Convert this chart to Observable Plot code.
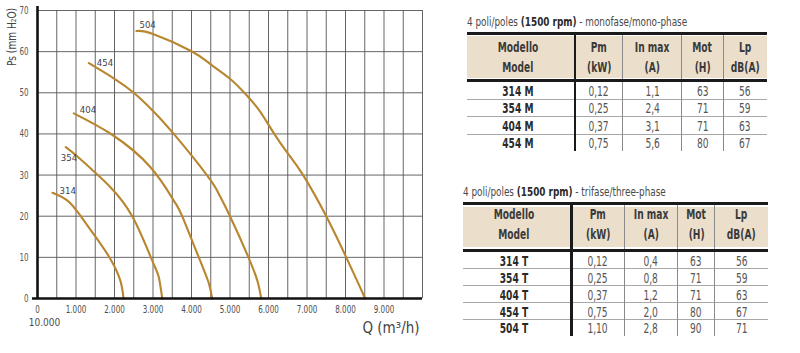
<!DOCTYPE html>
<html><head><meta charset="utf-8">
<script src="https://cdn.jsdelivr.net/npm/d3@7"></script>
<script src="https://cdn.jsdelivr.net/npm/@observablehq/plot@0.6"></script>
<style>
html,body{margin:0;padding:0;background:#fff;}
body{width:800px;height:353px;position:relative;overflow:hidden;font-family:"Liberation Sans Narrow","DejaVu Sans Condensed","Arial Narrow",sans-serif;font-stretch:condensed;}
#chart{position:absolute;left:0;top:0;}
.abs{position:absolute;}
.ttl{position:absolute;font-size:12px;color:#4a4a4a;white-space:nowrap;line-height:14px;transform:scaleX(0.82);transform-origin:0 50%;}
.ttl b{color:#2a2a2a;}
.cell{position:absolute;text-align:center;white-space:nowrap;font-size:13.5px;}
.cell span{display:inline-block;transform:scaleX(0.75);transform-origin:50% 50%;}
.ytitle{position:absolute;white-space:nowrap;font-size:12px;color:#444;transform:translate(-50%,-50%) rotate(-90deg) scaleX(0.84);}
</style></head><body>
<div id="chart"></div>
<div id="tables"></div>
<script>
// ---------- chart data ----------
const models = ["314", "354", "404", "454", "504"];
const q314 = [390, 780, 1100, 1515, 1900, 2150, 2235];
const p314 = [25.7, 23.8, 20.3, 14.9, 9.5, 4.4, 0];
const q354 = [735, 1000, 1510, 1900, 2460, 2980, 3150, 3240];
const p354 = [36.8, 34.8, 30.5, 27, 20, 9.2, 5.2, 0];
const q404 = [943, 1940, 2935, 3540, 3758, 4190, 4440, 4537];
const p404 = [45, 39.8, 31.9, 23.8, 20, 10, 4, 0];
const q454 = [1333, 2000, 2500, 3000, 3540, 4400, 4700, 5000, 5480, 5720, 5810];
const p454 = [57.2, 53.4, 50, 45.6, 40, 30, 25.6, 20, 10, 4, 0];
const q504 = [2570, 3000, 4000, 4500, 5000, 5450, 5800, 6150, 6500, 6900, 7500, 8020, 8350, 8510];
const p504 = [65, 64.3, 60.1, 56.9, 53.4, 49.2, 45.2, 40, 35.3, 30, 20, 10, 3.3, 0];
const xTickValues = [0, 1000, 2000, 3000, 4000, 5000, 6000, 7000, 8000, 9000];
const xTickLabels = ["0", "1.000", "2.000", "3.000", "4.000", "5.000", "6.000", "7.000", "8.000", "9.000"];
const xExtraLabel = "10.000";
const yTickValues = [0, 10, 20, 30, 40, 50, 60, 70];
const yTitle = "Ps (mm H\u2082O)";
const xTitle = "Q (m\u00b3/h)";

// ---------- table data ----------
const headTop = ["Modello", "Pm", "In max", "Mot", "Lp"];
const headBottom = ["Model", "(kW)", "(A)", "(H)", "dB(A)"];
const monoTitle = ["4 poli/poles ", "(1500 rpm)", " - monofase/mono-phase"];
const monoModel = ["314 M", "354 M", "404 M", "454 M"];
const monoPm = ["0,12", "0,25", "0,37", "0,75"];
const monoIn = ["1,1", "2,4", "3,1", "5,6"];
const monoMot = ["63", "71", "71", "80"];
const monoLp = ["56", "59", "63", "67"];
const triTitle = ["4 poli/poles ", "(1500 rpm)", " - trifase/three-phase"];
const triModel = ["314 T", "354 T", "404 T", "454 T", "504 T"];
const triPm = ["0,12", "0,25", "0,37", "0,75", "1,10"];
const triIn = ["0,4", "0,8", "1,2", "2,0", "2,8"];
const triMot = ["63", "71", "71", "80", "90"];
const triLp = ["56", "59", "63", "67", "71"];

// ---------- chart ----------
const qs = [q314, q354, q404, q454, q504];
const ps = [p314, p354, p404, p454, p504];
const pts = models.flatMap((m, i) => qs[i].map((q, j) => ({model: m, q, p: ps[i][j]})));
const starts = models.map((m, i) => ({model: m, q: qs[i][0], p: ps[i][0]}));
const labelStyle = {"314": [7, -2], "354": [-5, 10.5], "404": [6, -3], "454": [8, -0.5], "504": [3, -6]};
const FONT = "'Liberation Sans Narrow','DejaVu Sans Condensed','Arial Narrow',sans-serif";
const curveColor = "#b8862f";

const chart = Plot.plot({
  width: 440, height: 353,
  marginLeft: 37, marginRight: 18, marginTop: 10, marginBottom: 55,
  x: {domain: [0, 10000]},
  y: {domain: [0, 70]},
  style: {fontFamily: FONT, background: "transparent", overflow: "visible"},
  marks: [
    Plot.gridX(d3.range(500, 10001, 500), {stroke: "#555", strokeOpacity: 0.9, strokeWidth: 1}),
    Plot.gridY(d3.range(10, 71, 10), {stroke: "#555", strokeOpacity: 0.9, strokeWidth: 1}),
    Plot.line(pts, {x: "q", y: "p", z: "model", stroke: curveColor, strokeWidth: 2.1, curve: "natural"}),
    ...models.map(m => Plot.text(starts.filter(d => d.model === m), {
      x: "q", y: "p", text: "model", textAnchor: "start", ariaLabel: "curve-label",
      dx: labelStyle[m][0], dy: labelStyle[m][1], fontSize: 9.5, fill: "#3f3f4a"
    })),
    Plot.ruleX([0], {stroke: "#111", strokeWidth: 2.6, insetTop: -4, insetBottom: -1}),
    Plot.ruleY([0], {stroke: "#111", strokeWidth: 2.6, insetLeft: -5}),
    Plot.axisX(xTickValues, {tickSize: 0, tickPadding: 7, fontSize: 10.5, color: "#4d4d4d",
      tickFormat: d => xTickLabels[xTickValues.indexOf(d)], label: null}),
    Plot.axisY(yTickValues, {tickSize: 0, tickPadding: 9, fontSize: 11, color: "#555", label: null}),
    Plot.text([xExtraLabel], {x: () => 0, frameAnchor: "bottom", dx: 7, dy: 27, fontSize: 10, fill: "#4d4d4d", text: d => d, ariaLabel: "x-extra"}),
    Plot.text([xTitle], {frameAnchor: "bottom-right", textAnchor: "end", dx: -3, dy: 34, fontSize: 15, fill: "#444", text: d => d, ariaLabel: "x-title"})
  ]
});
// narrow the chart's texts horizontally to match the condensed face of the original
const scaleMap = {"x-axis tick label": 0.76, "y-axis tick label": 0.72, "curve-label": 0.8, "x-extra": 0.78, "x-title": 0.72};
chart.querySelectorAll("g[aria-label]").forEach(g => {
  const s = scaleMap[g.getAttribute("aria-label")];
  if (!s) return;
  g.querySelectorAll("text").forEach(t => {
    const xa = t.getAttribute("x");
    let pre = "";
    if (xa !== null && !isNaN(+xa)) { pre = ` translate(${+xa},0)`; t.removeAttribute("x"); }
    t.setAttribute("transform", (t.getAttribute("transform") || "") + pre + ` scale(${s},1)`);
  });
});
document.getElementById("chart").appendChild(chart);
d3.select("body").append("div").attr("class", "ytitle").style("left", "12px").style("top", "37px").text(yTitle);

// ---------- tables ----------
function buildTable(cfg, title, cols) {
  const root = d3.select("#tables");
  const n = cols[0].length;
  const edges = [cfg.left, ...cfg.vlines, cfg.right];
  const t = root.append("div").attr("class", "ttl")
    .style("left", cfg.left + "px").style("top", (cfg.titleY - 7) + "px");
  t.append("span").text(title[0]);
  t.append("b").text(title[1]);
  t.append("span").text(title[2]);
  const W = cfg.right - cfg.left;
  const box = (x, y, w, h, bg) => root.append("div").attr("class", "abs")
    .style("left", x + "px").style("top", y + "px").style("width", w + "px").style("height", h + "px").style("background", bg);
  box(cfg.left, cfg.bgTop, W, cfg.bgBot - cfg.bgTop, "#ebdfcb");
  for (let i = 1; i < n; i++) box(cfg.left, cfg.rowsTop + cfg.rowH * i - 0.5, W, 1, "#a8a8a8");
  const bottom = cfg.rowsTop + cfg.rowH * n;
  cfg.vlines.forEach((x, k) => {
    if (k === 0) box(x - 1.3, cfg.ruleTop, 2.6, bottom - cfg.ruleTop, "#1a1a1a");
    else box(x - 0.5, cfg.ruleTop, 1, bottom - cfg.ruleTop, "#8a8a8a");
  });
  box(cfg.left, cfg.ruleTop - 1.4, W, 2.8, "#1a1a1a");
  box(cfg.left, cfg.midRule - 1.4, W, 2.8, "#1a1a1a");
  for (let c = 0; c < 5; c++) {
    const cx = (edges[c] + edges[c + 1]) / 2 + (c === 0 ? -3 : 0);
    const put = (txt, y, bold, color) => root.append("div").attr("class", "cell")
      .style("left", (cx - 40) + "px").style("width", "80px")
      .style("top", (y - 9) + "px").style("line-height", "18px")
      .style("font-weight", bold ? "bold" : "normal").style("color", color)
      .append("span").text(txt);
    put(headTop[c], cfg.hdrY[0], true, "#3a3a3a");
    put(headBottom[c], cfg.hdrY[1], true, "#3a3a3a");
    cols[c].forEach((v, r) => put(v, cfg.rowsTop + cfg.rowH * (r + 0.5) + 0.4, c === 0, c === 0 ? "#2a2a2a" : "#555"));
  }
}
buildTable({left: 466.7, right: 766.7, titleY: 21.7, ruleTop: 33.3, bgTop: 36, bgBot: 78,
  hdrY: [47.3, 66.7], midRule: 80.7, rowsTop: 82, rowH: 17.35, vlines: [575, 622.7, 681.7, 723.3]},
  monoTitle, [monoModel, monoPm, monoIn, monoMot, monoLp]);
buildTable({left: 462.7, right: 768, titleY: 191.7, ruleTop: 203.3, bgTop: 206.5, bgBot: 247,
  hdrY: [214.3, 234], midRule: 250.7, rowsTop: 252, rowH: 16.9, vlines: [571.7, 624.3, 677.7, 714.7]},
  triTitle, [triModel, triPm, triIn, triMot, triLp]);
</script>
</body></html>
